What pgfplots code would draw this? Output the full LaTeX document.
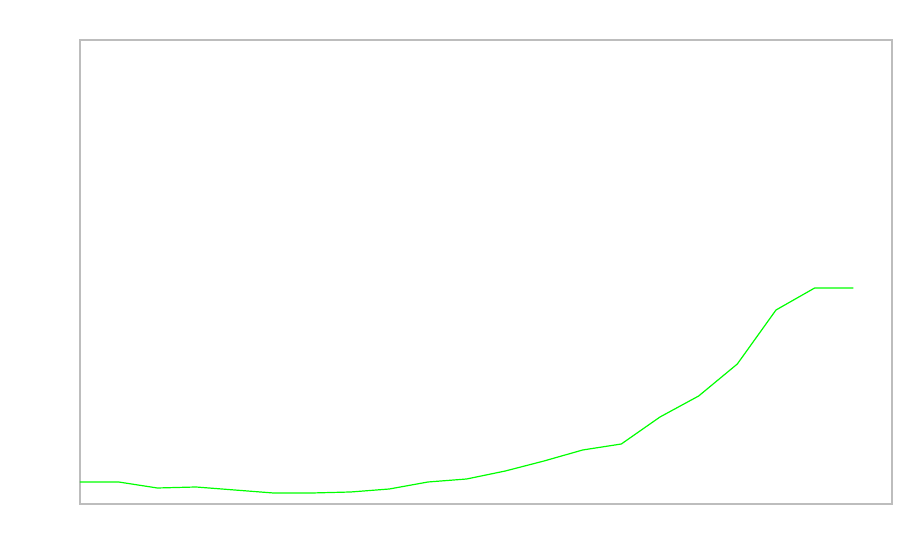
\documentclass[border=0pt]{standalone}
\usepackage{pgfplots}
\pgfplotsset{compat=1.18}
\definecolor{frame}{HTML}{BDBDBD}
\definecolor{lime}{HTML}{00FF00}
\begin{document}
\begin{tikzpicture}
\useasboundingbox (-40pt,-28pt) rectangle (410pt,252pt);
\begin{axis}[
  at={(0,0)}, anchor=south west,
  width=406pt, height=232pt, scale only axis,
  xmin=0, xmax=21, ymin=0, ymax=464,
  xtick=\empty, ytick=\empty,
  axis line style={frame, line width=0.6pt},
]
\addplot[color=lime, line width=0.6pt, mark=none] coordinates {
  (0,22) (1,22) (2,16) (3,17) (4,14) (5,11) (6,11) (7,12) (8,15) (9,22)
  (10,25) (11,33) (12,43) (13,54) (14,60) (15,87) (16,108) (17,140)
  (18,194) (19,216) (20,216)
};
\end{axis}
\end{tikzpicture}
\end{document}
